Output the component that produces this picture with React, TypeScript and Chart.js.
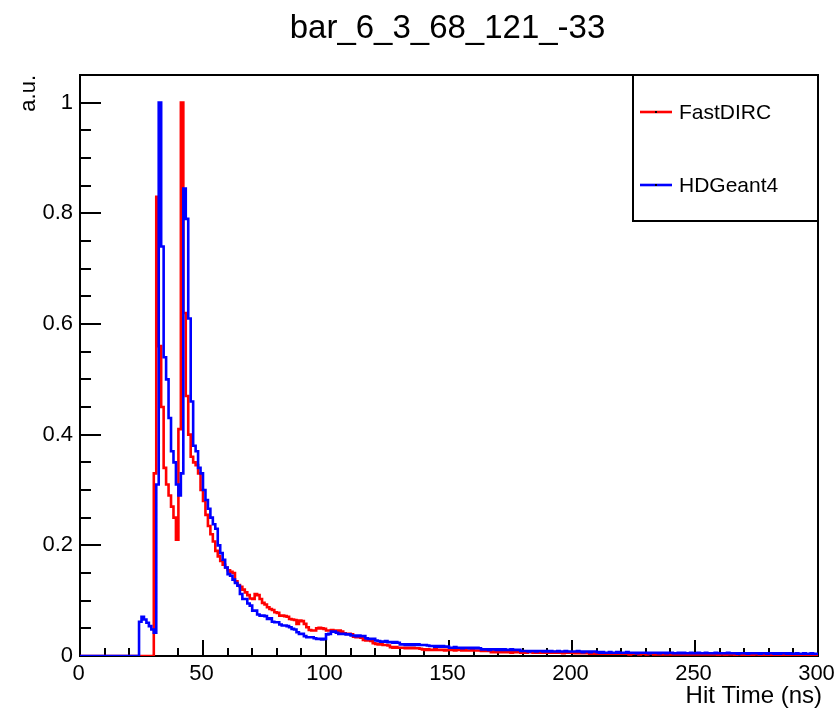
import React, { useEffect, useRef } from "react";
import { Chart, registerables } from "chart.js";

Chart.register(...registerables);

const chartTitle = "bar_6_3_68_121_-33";
const xAxisTitle = "Hit Time (ns)";
const yAxisTitle = "a.u.";
const seriesNames = ["FastDIRC", "HDGeant4"];
const seriesColors = ["#ff0000", "#0000ff"];
const xRange = [0, 300];
const yRange = [0, 1.05];
const binWidth = 1;
const xMajorTicks = [0, 50, 100, 150, 200, 250, 300];
const yMajorTicks = [0, 0.2, 0.4, 0.6, 0.8, 1];
const xTickLabels = ["0", "50", "100", "150", "200", "250", "300"];
const yTickLabels = ["0", "0.2", "0.4", "0.6", "0.8", "1"];
const xMinorStep = 10;
const yMinorStep = 0.05;

// FastDIRC, 1 ns bins from 0 to 300 ns
const fastDirc: number[] = [
  0, 0, 0, 0, 0, 0, 0, 0, 0, 0,
  0, 0, 0, 0, 0, 0, 0, 0, 0, 0,
  0, 0, 0, 0, 0, 0, 0, 0, 0, 0,
  0.33, 0.83, 0.56, 0.45, 0.34, 0.31, 0.29, 0.27, 0.25, 0.21,
  0.41, 1.0, 0.62, 0.47, 0.4, 0.36, 0.35, 0.345, 0.33, 0.3,
  0.28, 0.255, 0.235, 0.22, 0.207, 0.19, 0.18, 0.172, 0.165, 0.16,
  0.155, 0.152, 0.15, 0.135, 0.128, 0.125, 0.12, 0.115, 0.11, 0.104,
  0.103, 0.112, 0.11, 0.103, 0.096, 0.093, 0.088, 0.085, 0.083, 0.079,
  0.078, 0.073, 0.073, 0.072, 0.071, 0.067, 0.066, 0.065, 0.058, 0.064,
  0.063, 0.058, 0.052, 0.047, 0.046, 0.046, 0.05, 0.051, 0.05, 0.049,
  0.046, 0.046, 0.047, 0.046, 0.045, 0.046, 0.044, 0.041, 0.04, 0.04,
  0.039, 0.035, 0.034, 0.034, 0.033, 0.029, 0.028, 0.028, 0.027, 0.023,
  0.022, 0.021, 0.021, 0.02, 0.02, 0.019, 0.016, 0.015, 0.016, 0.015,
  0.015, 0.015, 0.014, 0.015, 0.014, 0.015, 0.014, 0.014, 0.013, 0.012,
  0.011, 0.012, 0.011, 0.011, 0.012, 0.011, 0.011, 0.011, 0.01, 0.011,
  0.011, 0.011, 0.01, 0.011, 0.011, 0.01, 0.011, 0.01, 0.01, 0.011,
  0.01, 0.01, 0.01, 0.009, 0.01, 0.009, 0.009, 0.007, 0.008, 0.007,
  0.007, 0.007, 0.008, 0.007, 0.007, 0.006, 0.007, 0.007, 0.007, 0.006,
  0.007, 0.006, 0.007, 0.007, 0.006, 0.006, 0.007, 0.006, 0.006, 0.007,
  0.006, 0.006, 0.006, 0.007, 0.006, 0.006, 0.005, 0.006, 0.006, 0.006,
  0.006, 0.005, 0.006, 0.005, 0.006, 0.005, 0.005, 0.004, 0.005, 0.004,
  0.004, 0.005, 0.004, 0.004, 0.005, 0.004, 0.004, 0.004, 0.005, 0.004,
  0.004, 0.004, 0.004, 0.003, 0.004, 0.004, 0.004, 0.003, 0.004, 0.004,
  0.003, 0.004, 0.004, 0.003, 0.004, 0.003, 0.004, 0.003, 0.003, 0.004,
  0.003, 0.003, 0.004, 0.003, 0.003, 0.003, 0.004, 0.003, 0.003, 0.003,
  0.003, 0.003, 0.003, 0.003, 0.004, 0.003, 0.003, 0.003, 0.003, 0.002,
  0.003, 0.003, 0.002, 0.003, 0.003, 0.003, 0.002, 0.003, 0.003, 0.002,
  0.003, 0.002, 0.003, 0.002, 0.003, 0.003, 0.002, 0.002, 0.003, 0.002,
  0.002, 0.003, 0.002, 0.002, 0.002, 0.003, 0.002, 0.002, 0.002, 0.002,
  0.002, 0.002, 0.002, 0.003, 0.002, 0.002, 0.002, 0.002, 0.002, 0.002,
];

// HDGeant4, 1 ns bins from 0 to 300 ns
const hdGeant4: number[] = [
  0, 0, 0, 0, 0, 0, 0, 0, 0, 0,
  0, 0, 0, 0, 0, 0, 0, 0, 0, 0,
  0, 0, 0, 0, 0.062, 0.071, 0.066, 0.06, 0.054, 0.048,
  0.042, 0.31, 1.0, 0.74, 0.54, 0.5, 0.43, 0.37, 0.35, 0.31,
  0.29, 0.33, 0.845, 0.79, 0.61, 0.46, 0.38, 0.37, 0.34, 0.33,
  0.3, 0.282, 0.266, 0.25, 0.238, 0.23, 0.2, 0.186, 0.174, 0.16,
  0.148, 0.145, 0.138, 0.132, 0.127, 0.112, 0.103, 0.103, 0.095, 0.091,
  0.082, 0.082, 0.075, 0.073, 0.073, 0.072, 0.067, 0.068, 0.062, 0.061,
  0.061, 0.057, 0.055, 0.055, 0.054, 0.052, 0.049, 0.048, 0.043, 0.04,
  0.04, 0.036, 0.034, 0.034, 0.034, 0.032, 0.031, 0.031, 0.03, 0.031,
  0.039, 0.04, 0.044, 0.044, 0.042, 0.04, 0.04, 0.04, 0.039, 0.039,
  0.037, 0.037, 0.036, 0.037, 0.036, 0.036, 0.032, 0.031, 0.031, 0.031,
  0.028, 0.027, 0.026, 0.026, 0.027, 0.025, 0.025, 0.024, 0.025, 0.024,
  0.021, 0.021, 0.02, 0.021, 0.02, 0.021, 0.02, 0.021, 0.02, 0.02,
  0.02, 0.019, 0.018, 0.018, 0.017, 0.018, 0.017, 0.018, 0.017, 0.017,
  0.015, 0.015, 0.016, 0.015, 0.015, 0.014, 0.015, 0.015, 0.014, 0.015,
  0.014, 0.015, 0.014, 0.012, 0.012, 0.012, 0.011, 0.012, 0.012, 0.011,
  0.012, 0.011, 0.012, 0.011, 0.011, 0.012, 0.011, 0.011, 0.011, 0.009,
  0.009, 0.009, 0.008, 0.009, 0.009, 0.008, 0.009, 0.009, 0.008, 0.009,
  0.008, 0.009, 0.008, 0.008, 0.009, 0.008, 0.008, 0.009, 0.008, 0.008,
  0.008, 0.008, 0.009, 0.008, 0.007, 0.008, 0.008, 0.007, 0.008, 0.008,
  0.007, 0.006, 0.007, 0.006, 0.006, 0.007, 0.006, 0.006, 0.007, 0.006,
  0.006, 0.006, 0.007, 0.006, 0.006, 0.006, 0.005, 0.006, 0.006, 0.006,
  0.006, 0.005, 0.006, 0.006, 0.006, 0.005, 0.006, 0.006, 0.005, 0.006,
  0.006, 0.005, 0.005, 0.006, 0.005, 0.006, 0.005, 0.005, 0.006, 0.005,
  0.005, 0.006, 0.005, 0.005, 0.006, 0.005, 0.005, 0.005, 0.006, 0.005,
  0.005, 0.005, 0.005, 0.006, 0.005, 0.005, 0.005, 0.004, 0.005, 0.005,
  0.005, 0.004, 0.005, 0.005, 0.005, 0.005, 0.004, 0.005, 0.005, 0.004,
  0.005, 0.005, 0.004, 0.005, 0.004, 0.005, 0.005, 0.004, 0.005, 0.004,
  0.004, 0.005, 0.004, 0.004, 0.005, 0.004, 0.004, 0.005, 0.004, 0.004,
];

const seriesValues = [fastDirc, hdGeant4];

const FONT = '"Liberation Sans", Arial, Helvetica, sans-serif';

function toSteps(values: number[]) {
  const pts = values.map((v, i) => ({ x: xRange[0] + i * binWidth, y: v }));
  pts.push({ x: xRange[0] + values.length * binWidth, y: values[values.length - 1] });
  return pts;
}

const rootStylePlugin = {
  id: "rootStyle",
  beforeDatasetsDraw(chart: any) {
    const { ctx, chartArea: a, scales } = chart;
    const xs = scales.x;
    const ys = scales.y;
    ctx.save();
    ctx.strokeStyle = "#000";
    ctx.lineWidth = 2;
    ctx.strokeRect(a.left, a.top, a.right - a.left, a.bottom - a.top);
    ctx.beginPath();
    const nY = Math.round((yRange[1] - yRange[0]) / yMinorStep);
    for (let k = 0; k < nY; k++) {
      const v = yRange[0] + k * yMinorStep;
      const major = yMajorTicks.some((t) => Math.abs(t - v) < 1e-6);
      const py = Math.round(ys.getPixelForValue(v));
      ctx.moveTo(a.left, py);
      ctx.lineTo(a.left + (major ? 21 : 11), py);
    }
    const nX = Math.round((xRange[1] - xRange[0]) / xMinorStep);
    for (let k = 1; k < nX; k++) {
      const v = xRange[0] + k * xMinorStep;
      const major = xMajorTicks.some((t) => Math.abs(t - v) < 1e-6);
      const px = Math.round(xs.getPixelForValue(v));
      ctx.moveTo(px, a.bottom);
      ctx.lineTo(px, a.bottom - (major ? 16 : 8));
    }
    ctx.stroke();
    ctx.restore();
  },
  afterDraw(chart: any) {
    const { ctx, chartArea: a, scales } = chart;
    const xs = scales.x;
    const ys = scales.y;
    ctx.save();
    ctx.fillStyle = "#000";

    // y tick labels
    ctx.font = `22px ${FONT}`;
    ctx.textAlign = "right";
    ctx.textBaseline = "middle";
    yMajorTicks.forEach((v, i) => {
      ctx.fillText(yTickLabels[i], a.left - 7, ys.getPixelForValue(v));
    });

    // x tick labels
    ctx.textAlign = "center";
    ctx.textBaseline = "alphabetic";
    xMajorTicks.forEach((v, i) => {
      ctx.fillText(xTickLabels[i], xs.getPixelForValue(v) - 1.5, 680);
    });

    // axis titles
    ctx.font = `24px ${FONT}`;
    ctx.textAlign = "right";
    ctx.fillText(xAxisTitle, 822, 703);

    ctx.save();
    ctx.font = `22px ${FONT}`;
    ctx.translate(35, a.top);
    ctx.rotate(-Math.PI / 2);
    ctx.textAlign = "right";
    ctx.textBaseline = "alphabetic";
    ctx.fillText(yAxisTitle, 0, 0);
    ctx.restore();

    // title
    ctx.font = `33px ${FONT}`;
    ctx.textAlign = "center";
    ctx.fillText(chartTitle, 447.5, 38);

    // legend
    const lx = 633;
    const ly = a.top;
    const lw = a.right - lx;
    const lh = 146;
    ctx.fillStyle = "#fff";
    ctx.fillRect(lx, ly, lw, lh);
    ctx.strokeStyle = "#000";
    ctx.lineWidth = 2;
    ctx.strokeRect(lx, ly, lw, lh);
    const rows = [ly + 37, ly + 110];
    chart.data.datasets.forEach((ds: any, i: number) => {
      const y = rows[i];
      ctx.strokeStyle = ds.borderColor;
      ctx.lineWidth = 2.6;
      ctx.beginPath();
      ctx.moveTo(lx + 7, y);
      ctx.lineTo(lx + 39, y);
      ctx.stroke();
      ctx.fillStyle = "#000";
      ctx.fillRect(lx + 22, y - 1, 2, 2);
      ctx.font = `21px ${FONT}`;
      ctx.textAlign = "left";
      ctx.textBaseline = "middle";
      ctx.fillText(ds.label, lx + 46, y + 1);
    });
    ctx.restore();
  },
};

export default function App() {
  const canvasRef = useRef<HTMLCanvasElement | null>(null);

  useEffect(() => {
    const canvas = canvasRef.current;
    if (!canvas) return;
    const chart = new Chart(canvas, {
      type: "line",
      data: {
        datasets: seriesValues.map((vals, i) => ({
          label: seriesNames[i],
          data: toSteps(vals),
          borderColor: seriesColors[i],
          backgroundColor: seriesColors[i],
          borderWidth: 2.6,
          pointRadius: 0,
          stepped: true,
          fill: false,
          order: seriesValues.length - i,
          borderJoinStyle: "miter",
          borderCapStyle: "butt",
        })),
      } as any,
      options: {
        responsive: false,
        animation: false,
        devicePixelRatio: 1,
        events: [],
        layout: { padding: { left: 80, top: 75, right: 20, bottom: 54 } },
        plugins: {
          legend: { display: false },
          title: { display: false },
          tooltip: { enabled: false },
        },
        scales: {
          x: { type: "linear", min: xRange[0], max: xRange[1], display: false },
          y: { type: "linear", min: yRange[0], max: yRange[1], display: false },
        },
      } as any,
      plugins: [rootStylePlugin],
    });
    return () => chart.destroy();
  }, []);

  return (
    <div style={{ position: "absolute", left: 0, top: 0, width: 838, height: 710, background: "#fff" }}>
      <canvas ref={canvasRef} width={838} height={710} style={{ display: "block" }} />
    </div>
  );
}
